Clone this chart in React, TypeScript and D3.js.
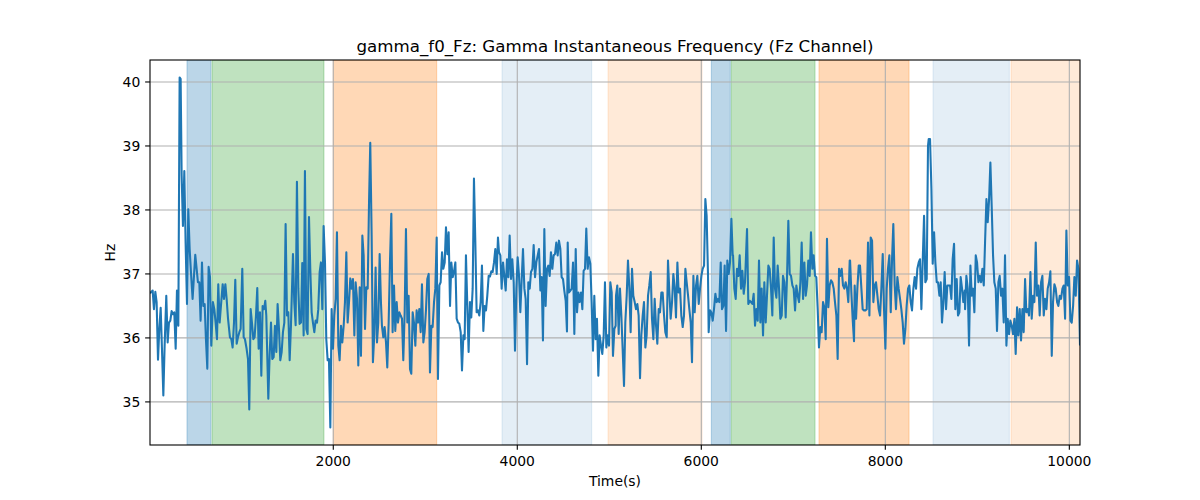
import React from "react";
import * as d3 from "d3";

// ---- data ----
const timeSec: number[] = [
  8, 37, 51, 66, 80, 95, 109, 124, 138, 153, 167, 185, 200, 214, 229, 243, 258, 272, 287, 301, 316, 330, 341, 352, 366, 381, 395, 410, 424, 439, 453, 471, 486, 500, 515, 529, 544, 558, 573, 587, 602, 616, 631, 645, 660, 674, 692, 707, 721, 736, 750, 765, 779, 798, 812, 827, 841, 856, 877, 892, 906, 921, 935, 950, 964, 979, 993, 1011, 1026, 1040, 1058, 1073, 1087, 1102, 1116, 1131, 1145, 1160, 1174, 1189, 1203, 1218, 1232, 1247, 1261,
  1272, 1294, 1308, 1323, 1337, 1352, 1366, 1381, 1395, 1410, 1424, 1439, 1453, 1468, 1482, 1497, 1511, 1526, 1540, 1562, 1576, 1591, 1605, 1620, 1634, 1649, 1663, 1678, 1692, 1707, 1721, 1736, 1750, 1765, 1779, 1794, 1808, 1823, 1837, 1852, 1866, 1881, 1895, 1910, 1924, 1939, 1953, 1968, 1982, 1997, 2011, 2026, 2040, 2055, 2069, 2084, 2098, 2113, 2127, 2142, 2156, 2171, 2185, 2200, 2214, 2229, 2243, 2258, 2272, 2287, 2301, 2316, 2330, 2345, 2359, 2374, 2388, 2402, 2417, 2431, 2446, 2460, 2475, 2489, 2504, 2518,
  2529, 2544, 2558, 2573, 2587, 2602, 2616, 2631, 2645, 2660, 2674, 2689, 2703, 2718, 2732, 2747, 2761, 2776, 2790, 2805, 2819, 2834, 2848, 2863, 2877, 2892, 2906, 2921, 2935, 2950, 2964, 2979, 2993, 3008, 3022, 3037, 3051, 3066, 3080, 3095, 3109, 3124, 3138, 3153, 3167, 3182, 3196, 3211, 3225, 3240, 3254, 3269, 3283, 3298, 3312, 3327, 3341, 3356, 3370, 3385, 3399, 3414, 3428, 3442, 3457, 3471, 3486, 3500, 3515, 3529, 3544, 3558, 3573, 3587, 3602, 3616, 3631, 3645, 3660, 3674, 3689, 3703, 3718, 3732, 3747, 3761, 3776, 3790,
  3801, 3816, 3830, 3845, 3859, 3874, 3888, 3903, 3917, 3932, 3946, 3961, 3975, 3990, 4004, 4019, 4033, 4048, 4062, 4077, 4091, 4106, 4120, 4135, 4149, 4164, 4178, 4193, 4207, 4222, 4236, 4251, 4265, 4279, 4294, 4308, 4323, 4337, 4352, 4366, 4381, 4395, 4410, 4424, 4439, 4453, 4468, 4482, 4497, 4511, 4526, 4540, 4548, 4562, 4577, 4591, 4606, 4620, 4635, 4649, 4664, 4678, 4693, 4707, 4721, 4736, 4750, 4765, 4779, 4794, 4808, 4823, 4837, 4852, 4866, 4881, 4895, 4910, 4924, 4939, 4953, 4968, 4982, 4997, 5011, 5026, 5040, 5055, 5069,
  5073, 5087, 5102, 5116, 5131, 5145, 5160, 5174, 5189, 5203, 5218, 5232, 5247, 5261, 5276, 5290, 5305, 5319, 5334, 5348, 5363, 5377, 5392, 5406, 5421, 5435, 5450, 5464, 5479, 5493, 5508, 5522, 5537, 5551, 5566, 5580, 5595, 5609, 5624, 5638, 5653, 5667, 5682, 5696, 5711, 5725, 5740, 5754, 5769, 5783, 5798, 5812, 5827, 5841, 5856, 5870, 5885, 5899, 5914, 5928, 5943, 5957, 5972, 5986, 6001, 6015, 6030, 6044, 6058, 6073, 6080, 6095, 6109, 6124, 6138, 6153, 6167, 6182, 6196, 6211, 6225, 6240, 6254, 6269, 6283, 6298, 6312, 6327, 6341,
  6345, 6359, 6374, 6388, 6403, 6417, 6432, 6446, 6461, 6475, 6497, 6511, 6526, 6540, 6555, 6569, 6584, 6598, 6613, 6627, 6642, 6656, 6671, 6685, 6700, 6714, 6729, 6743, 6758, 6772, 6787, 6801, 6816, 6830, 6845, 6859, 6874, 6888, 6903, 6917, 6932, 6946, 6961, 6975, 6990, 7004, 7019, 7033, 7048, 7062, 7077, 7091, 7106, 7120, 7135, 7149, 7163, 7178, 7192, 7207, 7221, 7236, 7250, 7265, 7279, 7294, 7308, 7323, 7337, 7352, 7366, 7381, 7395, 7410, 7424, 7439, 7453, 7468, 7482, 7497, 7511, 7526, 7540, 7555, 7569, 7584, 7598, 7613,
  7617, 7631, 7645, 7660, 7667, 7682, 7696, 7711, 7725, 7740, 7754, 7769, 7783, 7798, 7812, 7827, 7841, 7856, 7870, 7885, 7899, 7914, 7928, 7943, 7957, 7972, 7986, 8001, 8015, 8029, 8044, 8059, 8073, 8087, 8102, 8116, 8131, 8145, 8160, 8174, 8189, 8203, 8218, 8232, 8247, 8261, 8276, 8290, 8305, 8319, 8334, 8348, 8363, 8377, 8392, 8406, 8421, 8435, 8450, 8464, 8472, 8486, 8501, 8515, 8530, 8544, 8559, 8573, 8588, 8602, 8616, 8631, 8645, 8660, 8674, 8689, 8703, 8718, 8732, 8747, 8761, 8776, 8790, 8805, 8819, 8834, 8848, 8863,
  8867, 8881, 8896, 8910, 8925, 8939, 8954, 8968, 8983, 8997, 9012, 9026, 9041, 9055, 9070, 9084, 9099, 9113, 9128, 9142, 9156, 9171, 9185, 9200, 9214, 9229, 9243, 9258, 9272, 9287, 9301, 9316, 9330, 9345, 9359, 9374, 9388, 9403, 9417, 9432, 9446, 9461, 9475, 9490, 9504, 9519, 9533, 9548, 9562, 9577, 9591, 9606, 9620, 9635, 9649, 9664, 9678, 9693, 9707, 9722, 9736, 9751, 9765, 9780, 9794, 9809, 9823, 9838, 9852, 9867, 9881, 9896, 9910, 9925, 9939, 9954, 9968, 9983, 9997, 10012, 10026, 10041, 10055, 10070, 10084, 10099, 10116,
];

const gammaHz: number[] = [
  36.70, 36.74, 36.45, 36.72, 36.56, 35.66, 36.14, 36.47, 35.83, 35.10, 35.88, 36.66, 35.93, 36.24, 36.27, 36.42, 36.37, 36.40, 35.83, 36.74, 36.19, 40.07, 40.05, 38.54, 37.75, 38.61, 37.49, 36.53, 38.01, 37.39, 37.03, 36.61, 36.97, 37.30, 37.08, 36.87, 36.87, 36.27, 37.18, 36.50, 36.53, 35.98, 35.52, 37.11, 36.95, 35.88, 36.56, 36.45, 36.24, 35.98, 36.84, 36.24, 36.50, 36.84, 36.61, 36.84, 36.61, 36.30, 36.01, 35.98, 35.85, 36.24, 36.91, 35.91, 36.01, 36.09, 36.14, 37.08, 36.01, 35.98, 35.83, 35.67, 34.88, 36.45, 36.24, 35.98, 36.01, 36.35, 36.78, 35.83, 36.40, 35.41, 36.50, 36.45, 36.58,
  36.35, 35.05, 35.72, 36.24, 35.67, 35.70, 36.19, 35.78, 36.53, 36.14, 35.65, 35.78, 36.09, 36.24, 37.78, 36.35, 36.40, 35.65, 36.19, 37.31, 36.56, 36.20, 38.44, 36.77, 36.22, 36.24, 37.17, 36.04, 38.61, 36.14, 36.06, 37.89, 37.08, 36.40, 36.24, 36.09, 36.27, 36.24, 36.45, 37.03, 37.18, 36.45, 37.75, 37.18, 35.98, 35.65, 35.67, 34.60, 36.45, 35.83, 36.35, 36.61, 37.65, 35.88, 35.65, 36.19, 35.93, 36.19, 36.56, 37.34, 36.24, 36.56, 36.93, 36.77, 36.92, 36.04, 36.87, 36.61, 35.57, 36.79, 35.72, 37.60, 37.29, 36.14, 36.79, 36.77, 38.07, 39.05, 37.60, 35.62, 36.06, 37.10, 35.93, 36.24, 37.31, 36.56,
  36.19, 36.01, 36.17, 35.93, 35.54, 36.24, 37.18, 37.94, 36.09, 36.82, 36.11, 36.56, 36.24, 36.40, 36.35, 36.30, 35.65, 36.40, 37.70, 36.24, 36.66, 35.51, 35.44, 36.40, 36.24, 35.88, 36.43, 36.24, 36.45, 36.09, 36.84, 35.93, 36.09, 36.45, 36.92, 37.00, 35.46, 36.19, 36.17, 36.56, 36.77, 37.57, 35.36, 36.82, 36.87, 37.34, 37.08, 37.18, 37.73, 37.31, 37.65, 36.50, 37.18, 36.95, 37.03, 37.18, 36.30, 36.24, 36.22, 36.09, 35.49, 36.04, 35.98, 37.29, 36.50, 35.78, 36.56, 36.32, 36.77, 38.49, 37.49, 36.40, 36.43, 36.35, 36.56, 37.13, 36.11, 36.50, 36.43, 36.66, 36.97, 36.96, 37.04, 37.03, 37.18, 37.39, 37.00, 37.57,
  37.34, 37.29, 36.77, 37.18, 36.97, 36.74, 37.23, 36.95, 37.60, 36.92, 37.23, 36.87, 35.80, 36.77, 37.26, 36.97, 36.40, 36.92, 37.39, 36.77, 36.61, 35.59, 36.87, 36.77, 37.03, 37.08, 37.45, 36.95, 37.18, 37.29, 37.39, 36.74, 36.95, 35.96, 37.70, 36.50, 37.08, 37.13, 36.97, 37.34, 37.08, 37.29, 37.31, 37.49, 37.29, 37.52, 37.39, 36.95, 36.92, 36.74, 36.58, 36.10, 37.49, 36.71, 36.74, 36.77, 37.18, 36.06, 37.39, 36.40, 36.71, 36.56, 36.71, 36.45, 37.05, 37.08, 37.71, 37.08, 37.26, 37.16, 36.56, 35.80, 36.66, 35.98, 36.30, 35.41, 36.04, 35.88, 35.75, 36.04, 36.87, 35.85, 36.04, 35.88, 36.87, 36.71, 35.72, 36.14, 36.19,
  36.66, 36.82, 36.06, 36.77, 36.35, 35.83, 35.25, 36.24, 36.66, 37.21, 36.77, 36.09, 37.08, 36.66, 36.56, 36.45, 36.53, 36.35, 35.37, 36.04, 36.35, 36.56, 35.85, 36.04, 36.66, 36.82, 37.03, 36.30, 35.98, 36.61, 36.19, 35.91, 36.45, 36.40, 36.71, 36.71, 36.35, 36.09, 36.01, 37.21, 36.71, 36.30, 36.56, 37.00, 36.77, 36.32, 37.18, 36.71, 36.77, 36.35, 36.17, 36.35, 37.08, 36.87, 36.66, 36.45, 36.24, 35.62, 36.97, 36.40, 36.82, 36.97, 36.53, 36.77, 36.97, 37.08, 37.13, 38.17, 37.91, 36.97, 36.09, 36.43, 36.40, 36.27, 36.45, 36.69, 36.56, 36.61, 36.56, 37.18, 36.45, 36.50, 37.13, 36.11, 37.21, 37.00, 37.18, 37.86, 37.29,
  37.29, 36.77, 36.61, 37.08, 36.97, 37.29, 36.77, 37.05, 36.69, 36.87, 37.70, 36.53, 36.58, 36.56, 36.53, 36.69, 36.19, 36.45, 36.27, 37.21, 36.24, 36.77, 36.04, 36.87, 36.24, 36.66, 37.13, 37.08, 36.77, 36.35, 37.57, 36.77, 36.63, 37.13, 36.77, 36.30, 36.35, 36.97, 36.87, 36.32, 36.97, 37.83, 37.00, 36.97, 36.82, 36.77, 36.43, 36.82, 36.66, 36.56, 36.87, 37.49, 36.61, 37.18, 36.66, 36.82, 37.21, 36.97, 37.65, 37.08, 37.29, 36.97, 36.95, 36.45, 35.85, 36.17, 36.09, 36.56, 36.48, 35.98, 37.55, 36.48, 36.82, 36.90, 36.87, 36.77, 36.56, 36.35, 35.67, 37.08, 36.97, 37.08, 36.82, 36.77, 36.87, 36.77, 36.56, 37.21,
  37.21, 36.71, 36.30, 35.95, 36.82, 36.30, 36.77, 37.13, 37.13, 36.77, 36.45, 36.43, 36.43, 36.45, 37.49, 36.35, 37.57, 37.52, 36.56, 36.82, 36.87, 36.66, 36.45, 36.35, 36.77, 37.31, 36.45, 35.83, 36.77, 37.08, 37.29, 36.40, 37.23, 37.78, 36.82, 36.45, 36.95, 36.77, 36.61, 36.45, 36.24, 35.91, 36.14, 36.50, 36.77, 36.82, 36.56, 36.43, 36.77, 36.95, 36.77, 37.08, 37.18, 37.23, 36.45, 37.18, 37.91, 36.87, 36.92, 39.00, 39.11, 39.11, 38.33, 37.16, 37.65, 37.18, 36.87, 36.87, 36.66, 36.87, 36.24, 36.56, 37.03, 36.45, 36.82, 36.82, 36.82, 36.61, 37.23, 37.47, 36.45, 36.92, 36.35, 36.40, 36.95, 36.77, 36.56, 36.74,
  36.45, 36.97, 36.77, 35.88, 37.13, 36.66, 36.77, 36.40, 37.29, 37.18, 36.87, 36.97, 36.87, 37.08, 36.82, 37.49, 38.17, 37.81, 38.17, 38.74, 38.07, 37.29, 36.87, 36.77, 36.11, 36.87, 36.97, 36.66, 36.77, 36.24, 37.29, 35.88, 36.30, 36.06, 36.27, 36.19, 36.06, 36.30, 35.75, 36.48, 36.04, 36.45, 35.96, 36.45, 36.09, 36.92, 36.40, 36.45, 36.35, 37.03, 36.30, 36.66, 36.56, 37.49, 36.66, 36.82, 36.35, 36.87, 36.97, 36.35, 36.61, 36.45, 36.77, 36.87, 37.04, 35.72, 36.56, 36.84, 36.77, 36.56, 36.50, 36.66, 36.61, 36.77, 36.82, 36.30, 37.68, 36.82, 36.95, 36.27, 36.24, 36.50, 36.95, 36.66, 37.21, 37.08, 35.88,
];

// shaded periods: [start, end, kind]
const spanStarts: number[] = [410, 682, 2000, 3834, 4986, 6109, 6326, 7279, 8518, 9366];
const spanEnds: number[] = [671, 1899, 3124, 4809, 6008, 6315, 7236, 8258, 9348, 10116];
const spanKinds: string[] = ["blue", "green", "orange", "blueLight", "orangeLight", "blue", "green", "orange", "blueLight", "orangeLight"];

const xTicks: number[] = [2000, 4000, 6000, 8000, 10000];
const yTicks: number[] = [35, 36, 37, 38, 39, 40];

const titleText = "gamma_f0_Fz: Gamma Instantaneous Frequency (Fz Channel)";
const xLabel = "Time(s)";
const yLabel = "Hz";

const spanFill: Record<string, string> = {
  blue: "rgba(31,119,180,0.3)",
  green: "rgba(44,160,44,0.3)",
  orange: "rgba(255,127,14,0.3)",
  blueLight: "rgba(31,119,180,0.12)",
  orangeLight: "rgba(255,127,14,0.16)",
};

export default function App() {
  const W = 1200, H = 500;
  const L = 150, R = 1080, T = 60, B = 445;
  const pts: [number, number][] = timeSec.map((t, i) => [t, gammaHz[i]]);
  const xExt = d3.extent(timeSec) as [number, number];
  const yMin = d3.min(gammaHz) as number;
  const yMax = d3.max(gammaHz) as number;
  const pad = (yMax - yMin) * 0.05;
  const x = d3.scaleLinear().domain(xExt).range([L, R]);
  const y = d3.scaleLinear().domain([yMin - pad, yMax + pad]).range([B, T]);
  const line = d3.line<[number, number]>().x((d) => x(d[0])).y((d) => y(d[1]));
  const font = "'DejaVu Sans', sans-serif";
  const gridColor = "#b0b0b0";

  return (
    <div style={{ position: "absolute", left: 0, top: 0 }}>
      <svg width={W} height={H} style={{ display: "block", background: "#fff" }}>
        <defs>
          <clipPath id="plotClip">
            <rect x={L} y={T} width={R - L} height={B - T} />
          </clipPath>
        </defs>
        <g clipPath="url(#plotClip)">
          {spanStarts.map((s, i) => (
            <rect
              key={"span" + i}
              x={x(s)}
              y={T}
              width={x(spanEnds[i]) - x(s)}
              height={B - T}
              fill={spanFill[spanKinds[i]]}
              stroke={spanFill[spanKinds[i]]}
              strokeWidth={1}
            />
          ))}
          {xTicks.map((t) => (
            <line key={"gx" + t} x1={x(t)} x2={x(t)} y1={T} y2={B} stroke={gridColor} strokeWidth={1.1} />
          ))}
          {yTicks.map((v) => (
            <line key={"gy" + v} x1={L} x2={R} y1={y(v)} y2={y(v)} stroke={gridColor} strokeWidth={1.1} />
          ))}
          <path d={line(pts) || ""} fill="none" stroke="#1f77b4" strokeWidth={2.08} strokeLinejoin="round" />
        </g>
        <rect x={L} y={T} width={R - L} height={B - T} fill="none" stroke="#000" strokeWidth={1.1} />
        {xTicks.map((t) => (
          <g key={"xt" + t}>
            <line x1={x(t)} x2={x(t)} y1={B} y2={B + 4.86} stroke="#000" strokeWidth={1.1} />
            <text x={x(t)} y={B + 21} textAnchor="middle" fontFamily={font} fontSize={13.9} fill="#000">
              {t}
            </text>
          </g>
        ))}
        {yTicks.map((v) => (
          <g key={"yt" + v}>
            <line x1={L - 4.86} x2={L} y1={y(v)} y2={y(v)} stroke="#000" strokeWidth={1.1} />
            <text x={L - 9.7} y={y(v)} dy="0.35em" textAnchor="end" fontFamily={font} fontSize={13.9} fill="#000">
              {v}
            </text>
          </g>
        ))}
        <text x={(L + R) / 2} y={486} textAnchor="middle" fontFamily={font} fontSize={13.9} fill="#000">
          {xLabel}
        </text>
        <text
          transform={`translate(115, ${(T + B) / 2}) rotate(-90)`}
          textAnchor="middle"
          fontFamily={font}
          fontSize={13.9}
          fill="#000"
        >
          {yLabel}
        </text>
        <text x={(L + R) / 2} y={52} textAnchor="middle" fontFamily={font} fontSize={16.67} fill="#000">
          {titleText}
        </text>
      </svg>
    </div>
  );
}
